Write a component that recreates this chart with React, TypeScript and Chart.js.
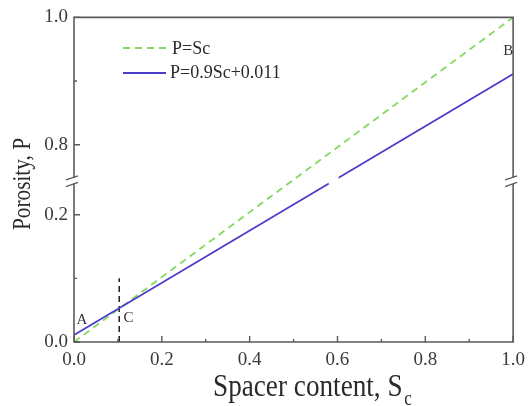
import React, { useEffect, useRef } from 'react';
import { Chart, registerables, LinearScale } from 'chart.js';

// ---- data ----
const spacerContent = [0, 1];
const porosityEqual = [0, 1]; // P = Sc
const porosityFit = [0.011, 0.911]; // P = 0.9Sc + 0.011
const markerCX = [0.103, 0.103];
const markerCY = [0, 0.1];
const legendLabels = ['P=Sc', 'P=0.9Sc+0.011'];
const xTickValues = [0, 0.1, 0.2, 0.3, 0.4, 0.5, 0.6, 0.7, 0.8, 0.9, 1.0];
const xLabeledTicks = [0, 0.2, 0.4, 0.6, 0.8, 1.0];
const yTickValues = [0, 0.1, 0.2, 0.8, 0.9, 1.0];
const yLabeledTicks = [0, 0.2, 0.8, 1.0];
const breakLow = 0.2525;
const breakHigh = 0.7425;
const pointNames = ['A', 'C', 'B'];
const pointNameX = [0.018, 0.124, 0.989];
const pointNameY = [0.034, 0.037, 0.947];
const xTitle = 'Spacer content, S';
const xTitleSub = 'c';
const yTitle = 'Porosity, P';

const GREEN = '#84d860';
const BLUE = '#4b3ccc';
const AXIS = '#5a5a5a';
const TEXT = '#2a2a2a';
const SERIF = "'Liberation Serif', 'Times New Roman', serif";

class BrokenLinearScale extends LinearScale {
  static id = 'brokenLinear';
  static defaults = LinearScale.defaults;
  buildTicks() {
    this.start = this.min;
    this.end = this.max;
    return yTickValues.map((v) => ({ value: v }));
  }
  toDecimal(v: number) {
    const lowSpan = breakLow - this.min;
    const highSpan = this.max - breakHigh;
    const span = lowSpan + highSpan;
    if (v <= breakLow) return (v - this.min) / span;
    if (v >= breakHigh) return (lowSpan + (v - breakHigh)) / span;
    return lowSpan / span;
  }
  getPixelForValue(value: any) {
    if (value === null || value === undefined || isNaN(value)) return NaN;
    return this.getPixelForDecimal(this.toDecimal(value));
  }
  getValueForPixel(pixel: number) {
    const d = this.getDecimalForPixel(pixel);
    const lowSpan = breakLow - this.min;
    const highSpan = this.max - breakHigh;
    const span = lowSpan + highSpan;
    const s = d * span;
    if (s <= lowSpan) return this.min + s;
    return breakHigh + (s - lowSpan);
  }
}

Chart.register(...registerables, BrokenLinearScale as any);

const decorPlugin = {
  id: 'decor',
  afterDatasetsDraw(chart: any) {
    const ctx = chart.ctx;
    const ys = chart.scales.y;
    const by = ys.getPixelForValue(breakLow);
    const meta = chart.getDatasetMeta(0);
    const p0 = meta.data[0];
    const p1 = meta.data[1];
    const t = (by - p0.y) / (p1.y - p0.y);
    const bx = p0.x + t * (p1.x - p0.x);
    ctx.save();
    ctx.fillStyle = '#ffffff';
    ctx.fillRect(bx - 4, by - 6, 10, 9);
    ctx.restore();
  },
  afterDraw(chart: any) {
    const ctx = chart.ctx;
    const xs = chart.scales.x;
    const ys = chart.scales.y;
    const { left, right, top, bottom } = chart.chartArea;
    const by = ys.getPixelForValue(breakLow);
    ctx.save();
    ctx.strokeStyle = AXIS;
    ctx.lineWidth = 1.6;
    ctx.lineCap = 'butt';
    ctx.beginPath();
    for (const ax of [left, right]) {
      ctx.moveTo(ax, top);
      ctx.lineTo(ax, by - 3.9);
      ctx.moveTo(ax, by + 2.7);
      ctx.lineTo(ax, bottom);
    }
    ctx.moveTo(left - 0.8, top);
    ctx.lineTo(right + 0.8, top);
    ctx.moveTo(left - 0.8, bottom);
    ctx.lineTo(right + 0.8, bottom);
    ctx.stroke();
    ctx.lineWidth = 1.3;
    ctx.beginPath();
    for (const ax of [left, right]) {
      ctx.moveTo(ax - 8, by - 1.3);
      ctx.lineTo(ax + 4, by - 5.3);
      ctx.moveTo(ax - 8, by + 5.3);
      ctx.lineTo(ax + 4, by + 1.0);
    }
    ctx.stroke();
    // ticks
    ctx.lineWidth = 1.4;
    ctx.beginPath();
    for (const v of xTickValues) {
      const px = xs.getPixelForValue(v);
      const len = xLabeledTicks.includes(v) ? 6 : 3;
      ctx.moveTo(px, bottom);
      ctx.lineTo(px, bottom - len);
    }
    for (const v of yTickValues) {
      const py = ys.getPixelForValue(v);
      const len = yLabeledTicks.includes(v) ? 6 : 3;
      ctx.moveTo(left, py);
      ctx.lineTo(left + len, py);
    }
    ctx.stroke();

    // legend
    ctx.lineWidth = 1.8;
    ctx.strokeStyle = GREEN;
    ctx.setLineDash([7, 5]);
    ctx.beginPath();
    ctx.moveTo(123, 48);
    ctx.lineTo(166, 48);
    ctx.stroke();
    ctx.setLineDash([]);
    ctx.strokeStyle = BLUE;
    ctx.beginPath();
    ctx.moveTo(123, 73);
    ctx.lineTo(166, 73);
    ctx.stroke();
    ctx.fillStyle = TEXT;
    ctx.font = `18px ${SERIF}`;
    ctx.textAlign = 'left';
    ctx.textBaseline = 'middle';
    ctx.fillText(legendLabels[0], 172, 49);
    ctx.fillText(legendLabels[1], 170, 73);

    // point names
    ctx.font = `15px ${SERIF}`;
    ctx.textAlign = 'center';
    ctx.fillStyle = '#333';
    pointNames.forEach((n, i) => {
      ctx.fillText(n, xs.getPixelForValue(pointNameX[i]), ys.getPixelForValue(pointNameY[i]));
    });

    // x title
    ctx.fillStyle = TEXT;
    ctx.textBaseline = 'alphabetic';
    ctx.textAlign = 'left';
    ctx.save();
    ctx.translate(213, 396);
    ctx.scale(0.85, 1);
    ctx.font = `32px ${SERIF}`;
    ctx.fillText(xTitle, 0, 0);
    const w = ctx.measureText(xTitle).width;
    ctx.font = `20px ${SERIF}`;
    ctx.fillText(xTitleSub, w + 2, 9);
    ctx.restore();

    // y title
    ctx.save();
    ctx.translate(29.5, 184);
    ctx.rotate(-Math.PI / 2);
    ctx.scale(0.85, 1);
    ctx.font = `25px ${SERIF}`;
    ctx.textAlign = 'center';
    ctx.fillText(yTitle, 0, 0);
    ctx.restore();

    ctx.restore();
  },
};

export default function App() {
  const ref = useRef<HTMLCanvasElement | null>(null);
  useEffect(() => {
    if (!ref.current) return;
    const tickFont = { family: SERIF, size: 19 };
    const chart = new Chart(ref.current, {
      type: 'line',
      data: {
        datasets: [
          {
            label: legendLabels[1],
            data: spacerContent.map((x, i) => ({ x, y: porosityFit[i] })),
            borderColor: BLUE,
            borderWidth: 1.8,
            pointRadius: 0,
          },
          {
            label: legendLabels[0],
            data: spacerContent.map((x, i) => ({ x, y: porosityEqual[i] })),
            borderColor: GREEN,
            borderWidth: 1.8,
            borderDash: [7, 5],
            pointRadius: 0,
          },
          {
            label: 'C',
            data: markerCX.map((x, i) => ({ x, y: markerCY[i] })),
            borderColor: '#222',
            borderWidth: 1.5,
            borderDash: [6, 4],
            pointRadius: 0,
          },
        ],
      },
      options: {
        animation: false,
        responsive: false,
        devicePixelRatio: 1,
        events: [],
        layout: { padding: { left: 0, top: 13, right: 14, bottom: 0 } },
        plugins: { legend: { display: false }, tooltip: { enabled: false } },
        scales: {
          x: {
            type: 'linear',
            min: 0,
            max: 1,
            afterBuildTicks: (s: any) => {
              s.ticks = xTickValues.map((v) => ({ value: v }));
            },
            afterFit: (s: any) => {
              s.height = 64;
            },
            grid: { display: false, drawTicks: false },
            border: { display: false },
            ticks: {
              autoSkip: false,
              maxRotation: 0,
              padding: 7,
              font: tickFont,
              color: '#3a3a3a',
              callback: (v: any) => (xLabeledTicks.includes(v) ? Number(v).toFixed(1) : ''),
            },
          },
          y: {
            type: 'brokenLinear' as any,
            min: 0,
            max: 1,
            afterFit: (s: any) => {
              s.width = 74;
            },
            grid: { display: false, drawTicks: false },
            border: { display: false },
            ticks: {
              autoSkip: false,
              padding: 6,
              font: tickFont,
              color: '#3a3a3a',
              callback: (v: any) => (yLabeledTicks.includes(v) ? Number(v).toFixed(1) : ''),
            },
          },
        },
      } as any,
      plugins: [decorPlugin],
    });
    return () => chart.destroy();
  }, []);
  return (
    <div style={{ position: 'fixed', left: 0, top: 0, width: 532, height: 406, background: '#fff' }}>
      <canvas ref={ref} width={532} height={406} style={{ display: 'block' }} />
    </div>
  );
}
